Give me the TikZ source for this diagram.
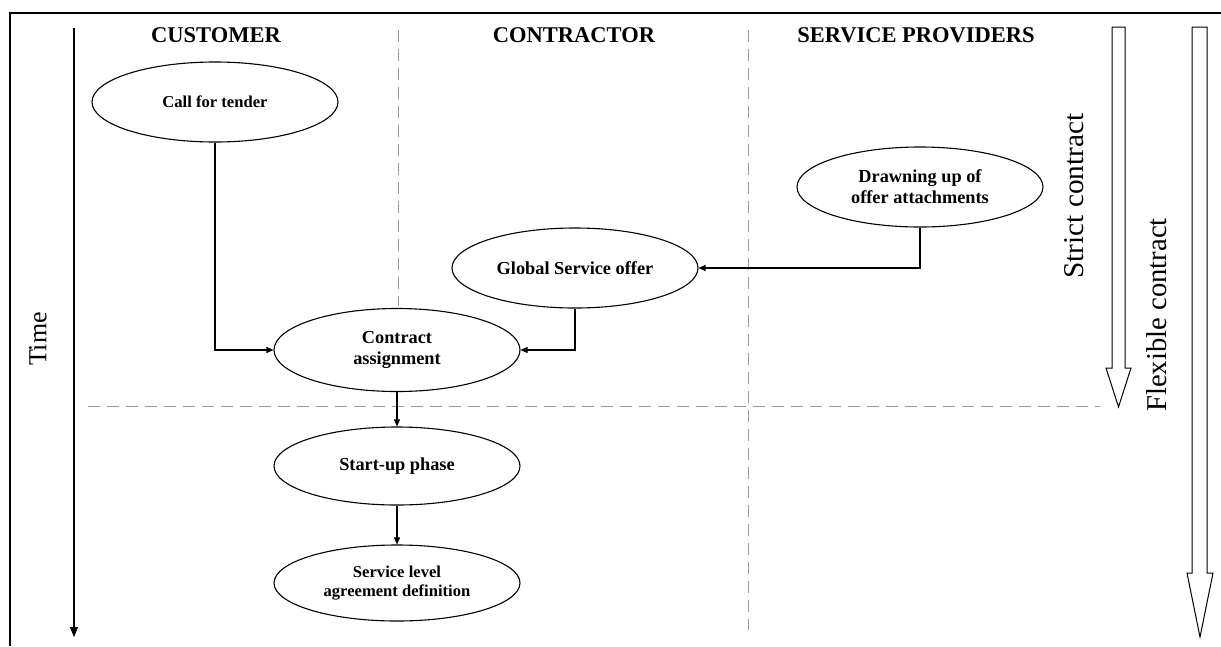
\documentclass[tikz,border=0pt]{standalone}
\usepackage{fontspec}
\setmainfont{Liberation Serif}
\usetikzlibrary{arrows.meta,shapes.geometric}
\definecolor{laneline}{RGB}{155,155,155}
\begin{document}
\begin{tikzpicture}[x=1pt,y=-1pt,
  phase/.style={draw, line width=1.1pt, ellipse, minimum width=246pt, minimum height=80pt,
    inner sep=0pt, align=center, font=\bfseries\fontsize{18.3}{21}\selectfont},
  smallphase/.style={phase, font=\bfseries\fontsize{16.6}{19}\selectfont},
  lanehead/.style={anchor=base, font=\bfseries\fontsize{22.5}{26}\selectfont},
  sidelabel/.style={rotate=90, inner sep=0pt},
  lane/.style={draw=laneline, line width=1pt, dash pattern=on 12pt off 7pt},
  flow/.style={draw, line width=1.1pt, -{Triangle[length=7pt,width=6pt]}},
  hollow/.style={draw, line width=1pt, fill=white, line join=miter}
]
\useasboundingbox (0,0) rectangle (1221,646);

% frame
\draw[line width=1.2pt] (10,646) -- (10,13) -- (1221,13);

% swimlane separators
\draw[lane] (398,30) -- (398,306);
\draw[lane] (748,30) -- (748,630);
\draw[lane] (88,406) -- (1100,406);

% lane headings
\node[lanehead] (hcust) at (216,42) {CUSTOMER};
\node[lanehead] (hcontr) at (574,42) {CONTRACTOR};
\node[lanehead] (hserv) at (916,42) {SERVICE PROVIDERS};

% time axis
\coordinate (ttop) at (74,28);
\coordinate (tbot) at (74,637);
\draw[line width=1.2pt, -{Triangle[length=10pt,width=8pt]}] (ttop) -- (tbot);
\node[sidelabel, font=\fontsize{26}{30}\selectfont] (time) at (38,339) {Time};

% contract type arrows
\draw[hollow] (1112,27) -- (1125,27) -- (1125,368) -- (1131,368) -- (1118.5,407)
  -- (1106,368) -- (1112,368) -- cycle;
\draw[hollow] (1192,27) -- (1207,27) -- (1207,573) -- (1213,573) -- (1200,637)
  -- (1187,573) -- (1192,573) -- cycle;
\node[sidelabel, font=\fontsize{28.7}{32}\selectfont] (strict) at (1074,196)
  {\scalebox{1.02}[1]{Strict contract}};
\node[sidelabel, font=\fontsize{28.7}{32}\selectfont] (flex) at (1157,315) {Flexible contract};

% process steps
\node[smallphase] (tender) at (215,102) {Call for tender};
\node[phase] (draw) at (920,187) {Drawning up of\\offer attachments};
\node[phase] (gso) at (575,268) {Global Service offer};
\node[phase, minimum height=83pt] (contract) at (397,350) {Contract\\assignment};
\node[phase, minimum height=78pt] (startup) at (397,466) {Start-up phase};
\node[smallphase, minimum height=76pt] (sla) at (397,583) {Service level\\agreement definition};

% flows
\draw[flow] (tender.south) |- (contract.west);
\draw[flow] (draw.south) |- (gso.east);
\draw[flow] (gso.south) |- (contract.east);
\draw[flow] (contract.south) -- (startup.north);
\draw[flow] (startup.south) -- (sla.north);
\end{tikzpicture}
\end{document}
